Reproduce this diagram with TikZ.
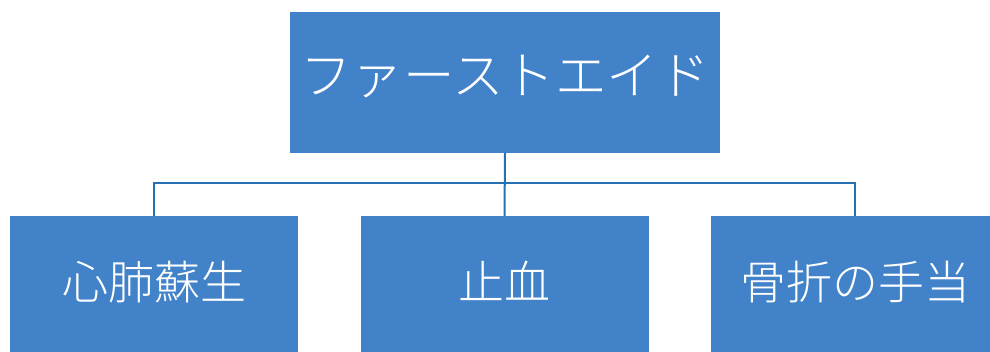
\documentclass[tikz,border=0pt]{standalone}
\usepackage{fontspec}
\newfontfamily\cjk{Noto Sans CJK JP Light}
\definecolor{boxblue}{RGB}{66,130,200}
\definecolor{lineblue}{RGB}{40,112,180}
\begin{document}
\begin{tikzpicture}[x=1pt,y=-1pt,
  box/.style={fill=boxblue,draw=none,inner sep=0pt,text=white,font=\cjk},
  topbox/.style={box,minimum width=430pt,minimum height=141pt,font=\cjk\fontsize{51.5}{51.5}\selectfont,text depth=16pt},
  subbox/.style={box,minimum width=288pt,minimum height=141pt,font=\cjk\fontsize{46}{46}\selectfont,text depth=13pt},
  conn/.style={draw=lineblue,line width=2pt}]
\useasboundingbox (0,0) rectangle (990,352);
\begin{scope}
\clip (0,0) rectangle (990,352);
\node[topbox] (top) at (505,82.5) {ファーストエイド};
\node[subbox] (left) at (154,286.5) {心肺蘇生};
\node[subbox] (mid) at (504.5,286.5) {止血};
\node[subbox] (right) at (855,286.5) {骨折の手当};
\coordinate (bus) at (505,183);
\draw[conn] (top.south) -- (mid.north);
\draw[conn] (left.north) -- (left.north |- bus) -- (right.north |- bus) -- (right.north);
\end{scope}
\end{tikzpicture}
\end{document}
